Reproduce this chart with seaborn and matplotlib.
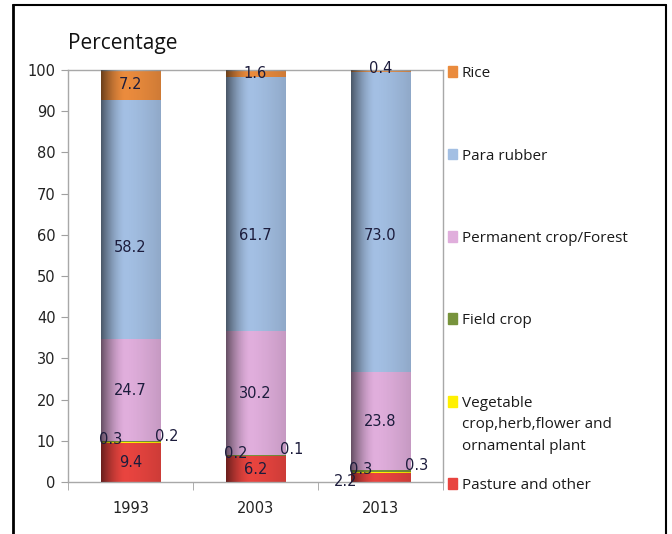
import matplotlib
matplotlib.use("Agg")
import matplotlib.pyplot as plt
import matplotlib.patches as mpatches
import seaborn as sns
import pandas as pd
import numpy as np

# data (percent of area), bottom to top of each stack
years = ["1993", "2003", "2013"]
series = ["Pasture and other",
          "Vegetable\ncrop,herb,flower and\nornamental plant",
          "Field crop",
          "Permanent crop/Forest",
          "Para rubber",
          "Rice"]
pasture = [9.4, 6.2, 2.2]
vegetable = [0.3, 0.2, 0.3]
field_crop = [0.2, 0.1, 0.3]
permanent = [24.7, 30.2, 23.8]
rubber = [58.2, 61.7, 73.0]
rice = [7.2, 1.6, 0.4]

colors = ["#E8443F", "#FFF000", "#77933C", "#E0AEDC", "#A3BFE3", "#EA8B3D"]

sns.set_style("white")
plt.rcParams['font.family'] = ['DejaVu Sans']

values = [pasture, vegetable, field_crop, permanent, rubber, rice]
df = pd.DataFrame(np.array(values).T, index=years, columns=series)
cum = df.cumsum(axis=1)

fig = plt.figure(figsize=(6.72, 5.34), dpi=100)
ax = fig.add_axes([68 / 672, 1 - 482 / 534, 375 / 672, 412 / 534])

# stacked bars: draw cumulative totals from the top layer down
for i in range(len(series) - 1, -1, -1):
    sns.barplot(x=years, y=cum.iloc[:, i].values, color=colors[i],
                width=0.48, saturation=1, ax=ax, zorder=2,
                linewidth=0, edgecolor='none')

# cylinder-like shading over each full stack
full_bars = ax.patches[:len(years)]
t = np.linspace(0, 1, 256)
alpha = np.where(t < 0.4, 0.55 * (1 - t / 0.4) ** 1.6, 0.12 * ((t - 0.4) / 0.6) ** 1.5)
grad = np.zeros((1, 256, 4))
grad[..., 3] = alpha
for bar in full_bars:
    x0 = bar.get_x()
    x1 = x0 + bar.get_width()
    im = ax.imshow(grad, extent=[x0, x1, 0, bar.get_height()], aspect='auto',
                   zorder=3, interpolation='bilinear')
    im.set_clip_path(bar)

ax.set_xlim(-0.5, 2.5)
ax.set_ylim(0, 100)
ax.set_yticks(np.arange(0, 101, 10))
ax.tick_params(axis='y', labelsize=10.5, length=5, direction='out', color='#a0a0a0',
               left=True, pad=4, labelcolor='#222222')
ax.set_xticks(range(len(years)))
ax.set_xticklabels(years)
ax.tick_params(axis='x', which='major', length=0, labelsize=10.5, pad=14, labelcolor='#222222')
ax.set_xticks([-0.5, 0.5, 1.5, 2.5], minor=True)
ax.tick_params(axis='x', which='minor', length=6, direction='out', color='#a0a0a0', bottom=True)
for s in ax.spines.values():
    s.set_visible(True)
    s.set_color('#a8a8a8')
    s.set_linewidth(1)
ax.set_xlabel("")
ax.set_ylabel("")

# data labels
label_kw = dict(ha='center', va='center', fontsize=10.5, color='#1c1c3c', zorder=5)
offsets = {0: (0, 0), 1: (-14, 2), 2: (26, 4), 3: (0, 0), 4: (0, -20), 5: (0, 0)}
for i in range(len(series)):
    for j, yr in enumerate(years):
        v = df.iloc[j, i]
        mid = cum.iloc[j, i] - v / 2
        dx, dy = offsets[i]
        if i == 0 and v < 3:
            dx, dy = -25, -3
        if i == 5 and v < 1:
            dy = 2
        if i == 4 and j == 1:
            dy = -23
        if i == 4 and j == 2:
            dy = -10
        ax.annotate(f"{v:.1f}", (j, mid), xytext=(dx, dy), textcoords='offset points',
                    annotation_clip=False, **label_kw)

# legend, spread down the right side
lfont = dict(family=['Open Sans', 'DejaVu Sans'], fontsize=11, color='#1a1a1a')
for k, name in enumerate(series[::-1]):
    yf = 0.995 - k * 0.2
    ax.add_patch(mpatches.Rectangle((1.013, yf - 0.012), 0.025, 0.026,
                                    transform=ax.transAxes, color=colors[::-1][k],
                                    clip_on=False))
    ax.text(1.05, yf + 0.014, name, transform=ax.transAxes, va='top', ha='left',
            linespacing=1.6, **lfont)

fig.text(68 / 672, 1 - 43 / 534, "Percentage", fontsize=15, va='center', ha='left',
         family=['Open Sans', 'DejaVu Sans'], color='#111111')

# outer black frame (bottom edge falls outside the image)
fig.add_artist(plt.Line2D([13 / 672, 13 / 672], [-0.1, 1 - 5 / 534], color='black', lw=2))
fig.add_artist(plt.Line2D([13 / 672, 666 / 672], [1 - 5 / 534, 1 - 5 / 534], color='black', lw=1.5))
fig.add_artist(plt.Line2D([666 / 672, 666 / 672], [-0.1, 1 - 5 / 534], color='black', lw=1.5))

fig.savefig("out.png", dpi=100)
